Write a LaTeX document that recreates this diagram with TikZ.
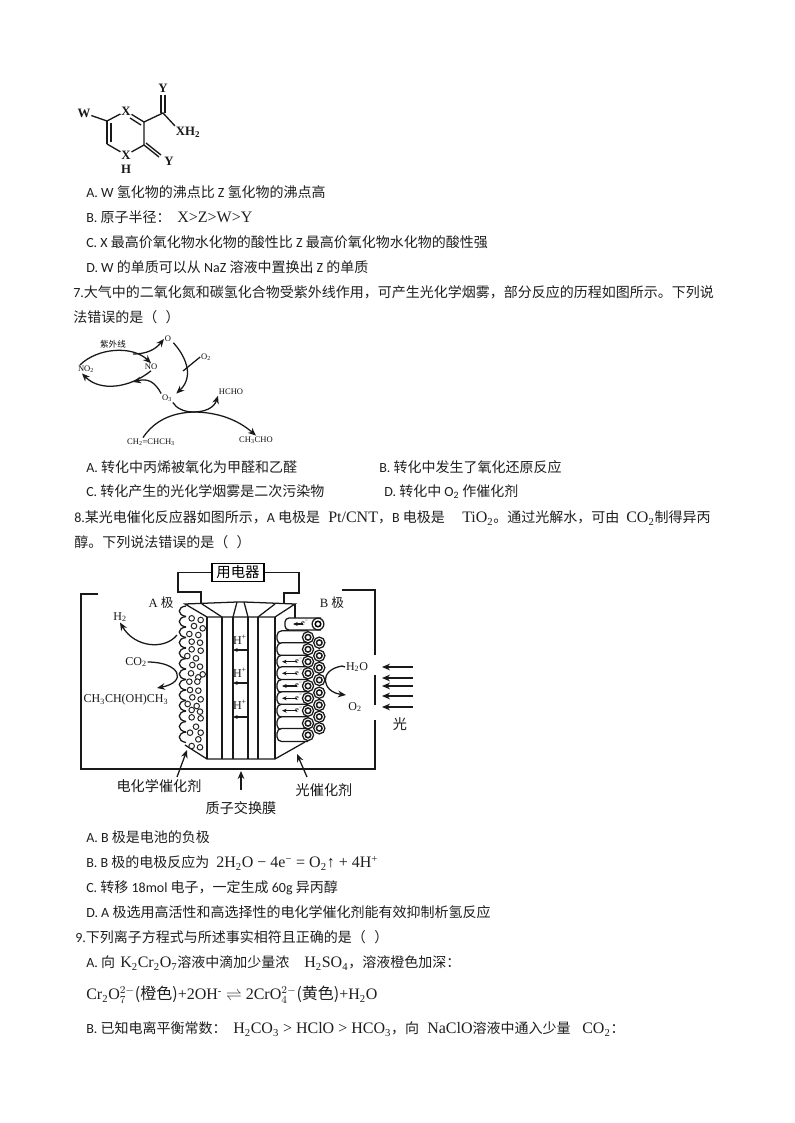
\documentclass[tikz,border=0pt]{standalone}
\usepackage{fontspec}
\setmainfont{Carlito}
\newfontfamily\cjkf{Noto Sans CJK SC}
\newfontfamily\serf{Liberation Serif}
\usetikzlibrary{arrows.meta}
\newcommand{\zh}[1]{{\cjkf #1}}
\newcommand{\tm}[1]{{\serf\fontsize{12pt}{13pt}\selectfont #1}}
\newcommand{\sbs}[1]{\textsubscript{#1}}
\newcommand{\sps}[1]{\textsuperscript{#1}}
\tikzset{
  txt/.style={anchor=base west,inner sep=0pt,yshift=-0.6pt,font=\fontsize{10.5pt}{12pt}\selectfont,text=black!88},
  lab/.style={inner sep=0.5pt,font=\serf\bfseries\fontsize{9.6pt}{10pt}\selectfont,text=black!90},
  smalllab/.style={inner sep=0.5pt,font=\serf\fontsize{6.4pt}{7pt}\selectfont,text=black!95},
  celllab/.style={inner sep=0.5pt,font=\serf\fontsize{9pt}{10pt}\selectfont,text=black!90},
  zhlab/.style={inner sep=0.5pt,font=\cjkf\fontsize{10.6pt}{11pt}\selectfont,text=black!90},
  bond/.style={line width=1pt,black!90},
  rx/.style={line width=0.95pt,black!90,-{Stealth[length=6pt,width=5pt]}},
  rxn/.style={line width=0.95pt,black!90},
  cell/.style={line width=0.95pt,black!90},
  ca/.style={line width=0.95pt,black!90,-{Stealth[length=6pt,width=5pt]}},
  ea/.style={line width=0.85pt,black!90,-{Stealth[length=3.5pt,width=3pt]}},
  bubble/.style={line width=0.75pt,black!85,fill=white},
  tube/.style={line width=0.95pt,black!90,fill=white}
}
\begin{document}
\begin{tikzpicture}[x=0.75pt,y=-0.75pt]
\path[use as bounding box,fill=white] (0,0) rectangle (794,1123);
%% --- text lines
\node[txt] (t1) at (86,197) {A. W \zh{氢化物的沸点比} Z \zh{氢化物的沸点高}};
\node[txt] (t2) at (86,222) {B. \zh{原子半径：}};
\node[txt] (t2b) at (177,222) {\tm{X>Z>W>Y}};
\node[txt] (t3) at (86,247) {C. X \zh{最高价氧化物水化物的酸性比} Z \zh{最高价氧化物水化物的酸性强}};
\node[txt] (t4) at (86,272) {D. W \zh{的单质可以从} NaZ \zh{溶液中置换出} Z \zh{的单质}};
\node[txt] (t5) at (73,297) {7.\zh{大气中的二氧化氮和碳氢化合物受紫外线作用，可产生光化学烟雾，部分反应的历程如图所示。下列说}};
\node[txt] (t6) at (73,322) {\zh{法错误的是（\hspace{0.6em}）}};
\node[txt] (t7) at (86,472) {A. \zh{转化中丙烯被氧化为甲醛和乙醛}};
\node[txt] (t8) at (379,472) {B. \zh{转化中发生了氧化还原反应}};
\node[txt] (t9) at (86,496) {C. \zh{转化产生的光化学烟雾是二次污染物}};
\node[txt] (t10) at (384,496) {D. \zh{转化中} O\sbs{2} \zh{作催化剂}};
\node[txt] (t11) at (74,522) {8.\zh{某光电催化反应器如图所示，}A \zh{电极是}};
\node[txt] (t11b) at (328,522) {\tm{Pt/CNT}\zh{，}B \zh{电极是}};
\node[txt] (t11c) at (462,522) {\tm{TiO\sbs{2}}\zh{。通过光解水，可由}};
\node[txt] (t11d) at (626,522) {\tm{CO\sbs{2}}\zh{制得异丙}};
\node[txt] (t12) at (74,547) {\zh{醇。下列说法错误的是（\hspace{0.6em}）}};
\node[txt] (t13) at (86,842) {A. B \zh{极是电池的负极}};
\node[txt] (t14) at (86,867) {B. B \zh{极的电极反应为}};
\node[txt] (t14b) at (216,867) {\tm{2H\sbs{2}O − 4e\sps{−} = O\sbs{2}↑ + 4H\sps{+}}};
\node[txt] (t15) at (86,892) {C. \zh{转移} 18mol \zh{电子，一定生成} 60g \zh{异丙醇}};
\node[txt] (t16) at (86,917) {D. A \zh{极选用高活性和高选择性的电化学催化剂能有效抑制析氢反应}};
\node[txt] (t17) at (75,942) {9.\zh{下列离子方程式与所述事实相符且正确的是（\hspace{0.6em}）}};
\node[txt] (t18) at (86,967) {A. \zh{向}};
\node[txt] (t18b) at (120,967) {\tm{K\sbs{2}Cr\sbs{2}O\sbs{7}}\zh{溶液中滴加少量浓}};
\node[txt] (t18c) at (304,967) {\tm{H\sbs{2}SO\sbs{4}}\zh{，溶液橙色加深：}};
\node[txt] (t19) at (86,999) {\tm{Cr\sbs{2}O$_7^{2-}$\zh{(橙色)}+2OH\sps{-} $\rightleftharpoons$ 2CrO$_4^{2-}$\zh{(黄色)}+H\sbs{2}O}};
\node[txt] (t20) at (86,1033) {B. \zh{已知电离平衡常数：}};
\node[txt] (t20b) at (233,1033) {\tm{H\sbs{2}CO\sbs{3} > HClO > HCO\sbs{3}}\zh{，向}};
\node[txt] (t20c) at (427,1033) {\tm{NaClO}\zh{溶液中通入少量}};
\node[txt] (t20d) at (582,1033) {\tm{CO\sbs{2}}\zh{：}};
%% --- structure
\node[lab] (W) at (84,113) {W};
\node[lab] (Xt) at (126,111) {X};
\node[lab] (Xb) at (126,155) {X};
\node[lab] (Hb) at (126,169) {H};
\node[lab] (Yt) at (163,88) {Y};
\node[lab] (Yr) at (169,161) {Y};
\node[lab] (XH) at (188,132) {XH\sbs{2}};
\coordinate (c1) at (107,121);
\coordinate (c2) at (107,144);
\coordinate (c3) at (144,122);
\coordinate (c4) at (144,145);
\coordinate (c5) at (163,113);
\draw[bond] (W) -- (c1) -- (Xt) -- (c3) -- (c4) -- (Xb) -- (c2) -- cycle;
\draw[bond] (c1) -- (c2);
\draw[bond] (111,123) -- (111,142);
\draw[bond] (130,118) -- (141,125);
\draw[bond] (c3) -- (c5) -- (XH.north west);
\draw[bond] (161,113) -- (161,95) (165,113) -- (165,95);
\draw[bond] (c4) -- (159,157) (146,143) -- (161,155);
%% --- reaction network
\node[smalllab,font=\cjkf\fontsize{6.4pt}{7pt}\selectfont] (uv) at (113,344) {紫外线};
\node[smalllab] (no2) at (86,369) {NO\sbs{2}};
\node[smalllab] (no) at (151,367) {NO};
\node[smalllab] (oo) at (168,339) {O};
\node[smalllab] (o2) at (206,357) {O\sbs{2}};
\node[smalllab] (o3) at (167,398) {O\sbs{3}};
\node[smalllab] (hcho) at (231,392) {HCHO};
\node[smalllab] (ch3cho) at (256,440) {CH\sbs{3}CHO};
\node[smalllab] (prop) at (151,442) {CH\sbs{2}=CHCH\sbs{3}};
\coordinate (j1) at (193,412);
\coordinate (j2) at (183,371);
\coordinate (j3) at (133,354);
\coordinate (j4) at (133,382);
\draw[rx] (80,365) .. controls (97,348) and (132,345) .. (no.north);
\draw[rx] (j3) .. controls (146,354) and (155,350) .. (oo.west);
\draw[rx] ([xshift=1pt]oo.south east) .. controls (183,353) and (196,375) .. ([xshift=7pt]o3.north);
\draw[rxn] (o2.west) -- (j2);
\draw[rx] (o3.north west) .. controls (155,382) and (148,378) .. (j4);
\draw[rx] (no.south) .. controls (130,388) and (100,392) .. ([xshift=-3pt]no2.south);
\draw[rxn] (o3.south east) .. controls (176,408) and (184,412) .. (j1);
\draw[rx] (j1) .. controls (205,412) and (214,408) .. (hcho.south west);
\draw[rx] (j1) .. controls (218,412) and (238,420) .. (ch3cho.north);
\draw[rxn] ([xshift=-6pt]prop.north) .. controls (155,420) and (172,413) .. (j1);
%% --- cell: container
\coordinate (bl) at (81,769);
\draw[cell] (98,594) -- (81,594) -- (bl) -- (375,769) -- (375,720);
\draw[cell] (375,705) -- (375,675);
\draw[cell] (375,655) -- (375,590) -- (342,590);
\node[draw,line width=0.95pt,inner sep=0pt,minimum width=39pt,minimum height=14pt,font=\cjkf\fontsize{10.8pt}{11pt}\selectfont] (load) at (238,572.5) {用电器};
\coordinate (wl) at (201,604);
\coordinate (wr) at (284,603);
\draw[cell] (load.west) -- (178,572.5) -- (178,592) -- (201,592) -- (wl);
\draw[cell] (load.east) -- (299,572.5) -- (299,593) -- (284,593) -- (wr);
%% cell body
\draw[cell] (185,604) -- (207,617) -- (275,617) -- (295,604) -- (244,602) -- (237,602) -- cycle;
\draw[cell] (202,604) -- (222,617) (237,602) -- (233,617) (244,602) -- (248,617) (275,604) -- (258,617);
\foreach \vx in {207,222,233,248,258,275} \draw[cell] (\vx,617) -- (\vx,759);
\draw[cell] (185,745) -- (207,759) -- (275,759) -- (305,742);
\draw[cell] (295,604) -- (295,622);
%% scallops
\foreach \i in {0,...,12} {
  \draw[cell] (186,{606+\i*10.5}) .. controls (177,{607+\i*10.5}) and (177,{615+\i*10.5}) .. (186,{616.5+\i*10.5});
}
%% bubbles
\foreach \bx/\by in {365/175,392/180,372/198,398/205,358/222,385/225,365/245,390/248,365/268,392/272,352/288,378/295,367/315,390/320,363/340,398/343,385/352,358/365,382/365,360/390,385/392,367/412,392/418,353/432,380/438,365/450,390/455,365/472,392/475,378/500,360/518,392/518,385/538,365/558,390/562}
  \draw[bubble] ({\bx/3+70},{\by/3+560}) circle[radius=2.1pt];
%% H+ and arrows
\foreach \hy/\n in {640/a,673/b,705/c} \node[celllab] (hp\n) at (240,\hy) {H\sps{+}};
\foreach \ay/\n in {650/a,683/b,717/c} { \coordinate (ha\n) at (247,\ay); \draw[ea] (ha\n) -- ++(-14,0); }
%% tubes
\foreach \ty in {642.7,655.7,667.7,680,692.7,705,716.7,728.3} {
  \draw[tube] (319.3,\ty) circle[radius=4.2pt];
  \draw[line width=1.1pt,black!90] (319.3,\ty) circle[radius=2.1pt];
}
\foreach \ty in {637.3,649.3,661.7,673.3,686,698.3,710.7,723.3,735} {
  \draw[tube,rounded corners=3.5pt] (308,{\ty-6.5}) -- (277,{\ty-6.5}) -- (277,{\ty+6.5}) -- (308,{\ty+6.5});
}
\foreach \ty in {637.3,649.3,661.7,673.3,686,698.3,710.7,723.3,735} {
  \draw[tube] (308,\ty) circle[radius=4.2pt];
  \draw[line width=1.1pt,black!90] (308,\ty) circle[radius=2.1pt];
}
\draw[tube,rounded corners=3pt] (321,618) -- (285,618) -- (285,630) -- (321,630);
\draw[tube] (318,624) circle[radius=4.4pt];
\draw[line width=1.1pt] (318,624) circle[radius=2.1pt];
\draw[ea] (303,624) -- (293,624);
\node[smalllab] (e0) at (305,623) {e\sps{−}};
\foreach \ty/\n in {661.7/a,673.3/b,686/c,698.3/d,710.7/e} {
  \draw[ea] (297,\ty) -- (282,\ty);
  \node[smalllab] (e\n) at (299,{\ty-1}) {e\sps{−}};
}
%% cell labels
\node[zhlab,font=\serf\fontsize{9.5pt}{10pt}\selectfont] (ap) at (161,603) {A \zh{极}};
\node[zhlab,font=\serf\fontsize{9.5pt}{10pt}\selectfont] (bp) at (332,603) {B \zh{极}};
\node[celllab] (h2) at (120,617) {H\sbs{2}};
\node[celllab] (co2) at (136,662) {CO\sbs{2}};
\node[celllab] (ipa) at (126,700) {CH\sbs{3}CH(OH)CH\sbs{3}};
\node[celllab] (h2o) at (357,667) {H\sbs{2}O};
\node[celllab] (oo2) at (355,707) {O\sbs{2}};
\node[zhlab] (guang) at (400,724) {光};
\node[zhlab] (ecat) at (159,786) {电化学催化剂};
\node[zhlab] (pcat) at (324,790) {光催化剂};
\node[zhlab] (pem) at (241,808) {质子交换膜};
%% cell arrows
\coordinate (ecatp) at (187,750);
\coordinate (pemp) at (241,771);
\coordinate (pcatp) at (297,754);
\coordinate (s1) at (177,635);
\coordinate (s2) at (342,666);
\draw[ca] (s1) .. controls (165,650) and (135,648) .. (h2.south);
\draw[ca] (co2.east) .. controls (180,662) and (188,682) .. (157,688);
\draw[ca] (177,777) -- (ecatp);
\draw[ca] (241,790) -- (pemp);
\draw[ca] (307,777) -- (pcatp);
\draw[rxn] (h2o.west) -- (s2);
\draw[ca] (s2) .. controls (318,670) and (322,692) .. (346,695);
\foreach \ly/\n in {667/a,678/b,686/c,696/d,707/e} {
  \coordinate (l\n) at (413,\ly);
  \draw[ca] (l\n) -- (382,\ly);
}
\end{tikzpicture}
\end{document}
